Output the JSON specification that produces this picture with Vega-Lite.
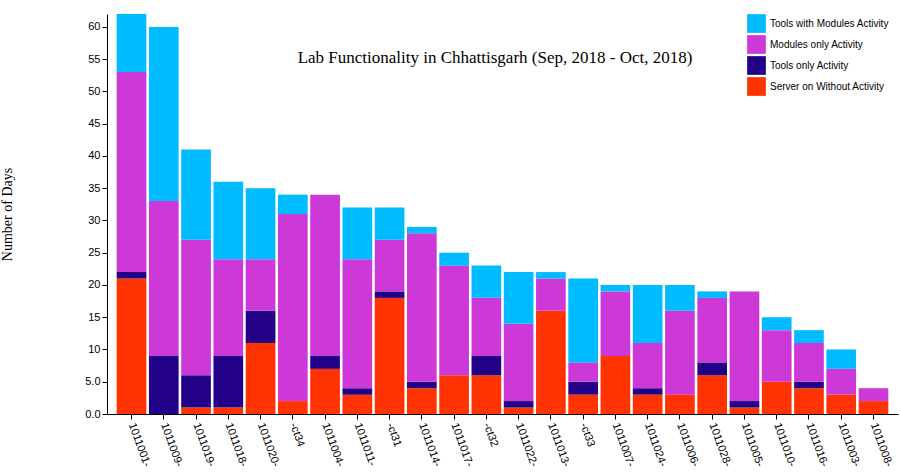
{
  "$schema": "https://vega.github.io/schema/vega-lite/v6.json",
  "width": 791,
  "height": 400,
  "padding": {"left": 107, "top": 14, "right": 3, "bottom": 60},
  "autosize": "none",
  "config": {"view": {"stroke": null}, "font": "Liberation Sans"},
  "datasets": {
    "raw": [
      {"lab": "1011001-", "S": 21, "T": 1, "M": 31, "B": 9},
      {"lab": "1011009-", "S": 0, "T": 9, "M": 24, "B": 27},
      {"lab": "1011019-", "S": 1, "T": 5, "M": 21, "B": 14},
      {"lab": "1011018-", "S": 1, "T": 8, "M": 15, "B": 12},
      {"lab": "1011020-", "S": 11, "T": 5, "M": 8, "B": 11},
      {"lab": "-ct34", "S": 2, "T": 0, "M": 29, "B": 3},
      {"lab": "1011004-", "S": 7, "T": 2, "M": 25, "B": 0},
      {"lab": "1011011-", "S": 3, "T": 1, "M": 20, "B": 8},
      {"lab": "-ct31", "S": 18, "T": 1, "M": 8, "B": 5},
      {"lab": "1011014-", "S": 4, "T": 1, "M": 23, "B": 1},
      {"lab": "1011017-", "S": 6, "T": 0, "M": 17, "B": 2},
      {"lab": "-ct32", "S": 6, "T": 3, "M": 9, "B": 5},
      {"lab": "1011022-", "S": 1, "T": 1, "M": 12, "B": 8},
      {"lab": "1011013-", "S": 16, "T": 0, "M": 5, "B": 1},
      {"lab": "-ct33", "S": 3, "T": 2, "M": 3, "B": 13},
      {"lab": "1011007-", "S": 9, "T": 0, "M": 10, "B": 1},
      {"lab": "1011024-", "S": 3, "T": 1, "M": 7, "B": 9},
      {"lab": "1011006-", "S": 3, "T": 0, "M": 13, "B": 4},
      {"lab": "1011028-", "S": 6, "T": 2, "M": 10, "B": 1},
      {"lab": "1011005-", "S": 1, "T": 1, "M": 17, "B": 0},
      {"lab": "1011010-", "S": 5, "T": 0, "M": 8, "B": 2},
      {"lab": "1011016-", "S": 4, "T": 1, "M": 6, "B": 2},
      {"lab": "1011003-", "S": 3, "T": 0, "M": 4, "B": 3},
      {"lab": "1011008-", "S": 2, "T": 0, "M": 2, "B": 0}
    ]
  },
  "data": {"name": "raw"},
  "transform": [
    {"fold": ["S", "T", "M", "B"], "as": ["k", "days"]},
    {"lookup": "k", "from": {"data": {"values": [
      {"k": "S", "name": "Server on Without Activity", "ord": 1},
      {"k": "T", "name": "Tools only Activity", "ord": 2},
      {"k": "M", "name": "Modules only Activity", "ord": 3},
      {"k": "B", "name": "Tools with Modules Activity", "ord": 4}
    ]}, "key": "k", "fields": ["name", "ord"]}}
  ],
  "layer": [
    {
      "mark": {"type": "bar"},
      "encoding": {
        "x": {"field": "lab", "type": "nominal", "sort": null, "title": null,
          "scale": {"paddingInner": 0.08, "paddingOuter": 0.3},
          "axis": {"labelAngle": 70, "labelAlign": "left", "labelBaseline": "middle", "labelFontSize": 11, "labelColor": "#000", "domainColor": "#000", "tickColor": "#000", "labelPadding": 4}},
        "y": {"field": "days", "type": "quantitative", "stack": "zero",
          "scale": {"domain": [0, 62], "nice": false},
          "title": "Number of Days",
          "axis": {"values": [0,5,10,15,20,25,30,35,40,45,50,55,60], "labelExpr": "datum.value < 10 ? format(datum.value, '.1f') : datum.value", "grid": false, "labelFontSize": 11, "labelColor": "#000", "domainColor": "#000", "tickColor": "#000", "titleFont": "Liberation Serif", "titleFontSize": 14, "titleFontWeight": "normal", "titleColor": "#000", "titlePadding": 70}},
        "order": {"field": "ord", "type": "quantitative"},
        "color": {"field": "name", "type": "nominal",
          "scale": {"domain": ["Tools with Modules Activity", "Modules only Activity", "Tools only Activity", "Server on Without Activity"],
            "range": ["#00bbff", "#cc39d6", "#220088", "#ff3300"]},
          "legend": {"title": null, "orient": "none", "legendX": 640, "legendY": 0, "symbolType": "square", "symbolSize": 350, "symbolStrokeWidth": 0, "labelFontSize": 10, "labelColor": "#000", "rowPadding": 2}}
      }
    },
    {
      "data": {"values": [{"t": "Lab Functionality in Chhattisgarh (Sep, 2018 - Oct, 2018)"}]},
      "transform": [],
      "mark": {"type": "text", "font": "Liberation Serif", "fontSize": 17, "color": "#000", "x": 388, "y": 44},
      "encoding": {"text": {"field": "t"}}
    }
  ]
}
